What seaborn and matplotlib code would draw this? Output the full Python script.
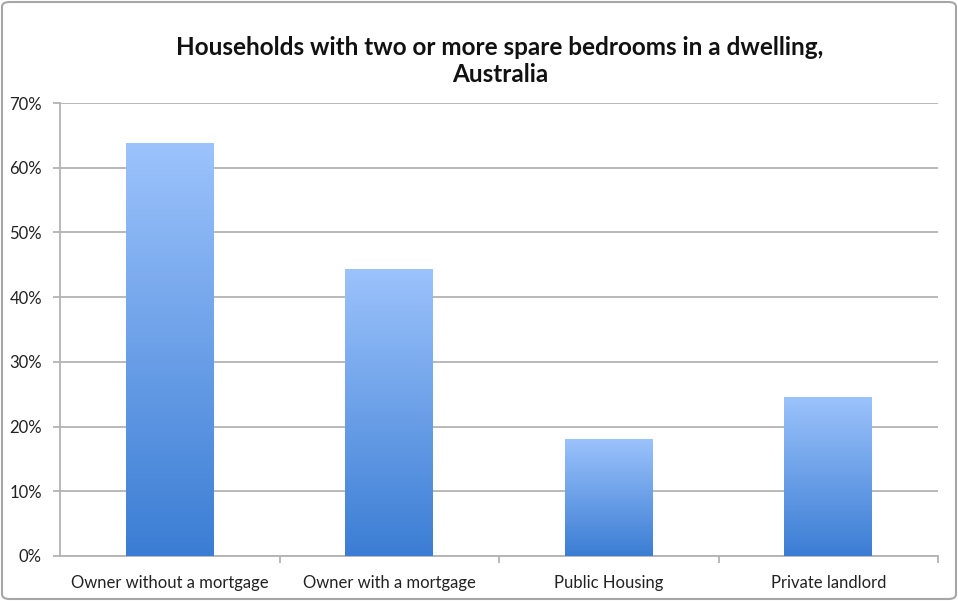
import numpy as np
import pandas as pd
import matplotlib
matplotlib.use("Agg")
import matplotlib.pyplot as plt
from matplotlib.colors import LinearSegmentedColormap
from matplotlib.patches import FancyBboxPatch
import seaborn as sns

# Share of households with two or more spare bedrooms, by tenure type
categories = ["Owner without a mortgage", "Owner with a mortgage",
              "Public Housing", "Private landlord"]
shares = [63.8, 44.4, 18.1, 24.6]
y_ticks = [0, 10, 20, 30, 40, 50, 60, 70]
y_tick_labels = ["0%", "10%", "20%", "30%", "40%", "50%", "60%", "70%"]
title = "Households with two or more spare bedrooms in a dwelling,\nAustralia"

df = pd.DataFrame({"tenure": categories, "share": shares})

sns.set_theme(style="white")
plt.rcParams["font.family"] = ["Lato", "DejaVu Sans"]

fig = plt.figure(figsize=(9.58, 6.01), dpi=100)
ax = fig.add_axes([60 / 958, 1 - 556 / 601, 878 / 958, 453 / 601])

sns.barplot(data=df, x="tenure", y="share", ax=ax, width=0.4,
            color="#6a9ee8", saturation=1, zorder=3)

# Vertical gradient fill for each bar: light blue at top, deeper blue at base
grad_cmap = LinearSegmentedColormap.from_list("bar_grad", ["#3b7dd4", "#9cc3fc"])
gradient = np.linspace(0, 1, 256).reshape(-1, 1)
for patch in ax.patches:
    x0, y0 = patch.get_x(), patch.get_y()
    w, h = patch.get_width(), patch.get_height()
    patch.set_facecolor("none")
    patch.set_edgecolor("none")
    im = ax.imshow(gradient, cmap=grad_cmap, aspect="auto", origin="lower",
                   extent=[x0, x0 + w, y0, y0 + h], zorder=3)
    im.set_clip_path(patch)

ax.set_xlim(-0.5, 3.5)
ax.set_ylim(0, 70)
ax.set_yticks(y_ticks)
ax.set_yticklabels(y_tick_labels)
ax.set_xlabel("")
ax.set_ylabel("")

grid_col = "#b3b3b3"
ax.yaxis.grid(True, color=grid_col, linewidth=1.3, zorder=0)
ax.set_axisbelow(True)
for side in ["top", "right"]:
    ax.spines[side].set_visible(False)
ax.spines["left"].set_color(grid_col)
ax.spines["bottom"].set_color(grid_col)
ax.spines["left"].set_linewidth(1.3)
ax.spines["bottom"].set_linewidth(1.3)

# Category labels centred; tick marks sit on the category boundaries
ax.set_xticks(range(len(categories)))
ax.set_xticklabels(categories)
ax.set_xticks([0.5, 1.5, 2.5, 3.5], minor=True)
ax.tick_params(axis="x", which="major", length=0, pad=14, labelsize=12,
               labelcolor="#222222")
ax.tick_params(axis="x", which="minor", length=5, width=1.3, color=grid_col,
               direction="out", bottom=True)
ax.tick_params(axis="y", length=5, width=1.3, color=grid_col, left=True,
               pad=8, labelsize=12, labelcolor="#222222")

fig.text(0.522, 1 - 61 / 601, title, ha="center", va="center",
         fontsize=17.5, fontweight="bold", color="#111111", linespacing=1.25)

# Rounded frame around the whole chart
frame = FancyBboxPatch((2 / 958, 2 / 601), 1 - 4 / 958, 1 - 4 / 601,
                       boxstyle="round,pad=0,rounding_size=0.008",
                       transform=fig.transFigure, fill=False,
                       edgecolor="#a6a6a6", linewidth=1.5)
fig.patches.append(frame)

fig.savefig("out.png", dpi=100)
